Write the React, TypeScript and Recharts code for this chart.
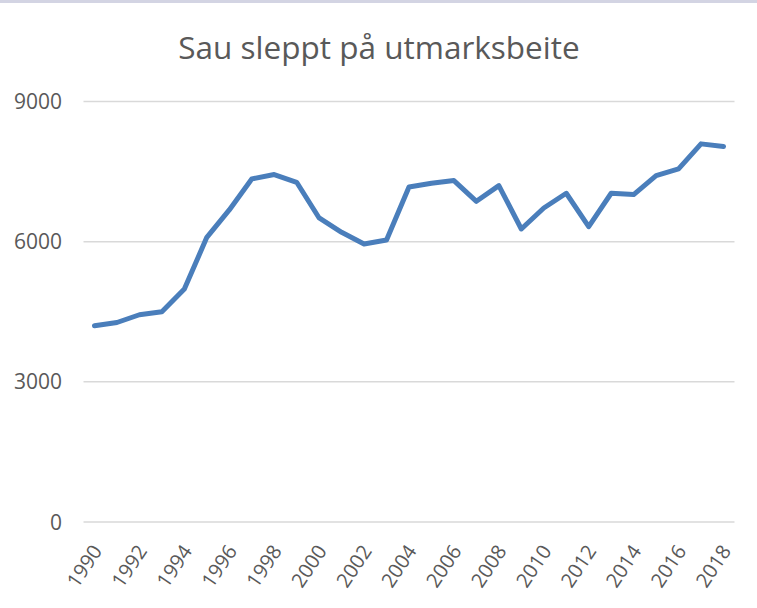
import React from "react";
import { LineChart, Line, XAxis, YAxis, CartesianGrid } from "recharts";

const years = [
  "1990", "1991", "1992", "1993", "1994", "1995", "1996", "1997", "1998", "1999",
  "2000", "2001", "2002", "2003", "2004", "2005", "2006", "2007", "2008", "2009",
  "2010", "2011", "2012", "2013", "2014", "2015", "2016", "2017", "2018",
];
const sheep = [
  4200, 4270, 4436, 4500, 4986, 6092, 6679, 7343, 7436, 7271,
  6507, 6200, 5950, 6036, 7170, 7250, 7307, 6864, 7200, 6271,
  6721, 7036, 6321, 7036, 7007, 7414, 7557, 8093, 8036,
];
const yTicks = [0, 3000, 6000, 9000];
const title = "Sau sleppt på utmarksbeite";

const data = years.map((y, i) => ({ year: y, value: sheep[i] }));

const FONT = "'Open Sans', 'Noto Sans', sans-serif";
const TEXT = "#595959";

const XTick = (props: any) => {
  const { x, y, payload } = props;
  const ax = x + 8.5;
  const ay = y + 29;
  return (
    <text
      x={ax}
      y={ay}
      textAnchor="end"
      fill={TEXT}
      fontSize={20}
      fontFamily={FONT}
      transform={`rotate(-56, ${ax}, ${ay})`}
    >
      {payload.value}
    </text>
  );
};

const YTick = (props: any) => {
  const { x, y, payload } = props;
  return (
    <text
      x={x - 21.5}
      y={y}
      dy="0.36em"
      textAnchor="end"
      fill={TEXT}
      fontSize={21}
      fontFamily={FONT}
    >
      {payload.value}
    </text>
  );
};

export default function App() {
  return (
    <div style={{ position: "absolute", left: 0, top: 0, width: 757, height: 608, background: "#fff" }}>
      <div style={{ position: "absolute", left: 0, top: 0, width: 757, height: 3, background: "#d3d4e3" }} />
      <LineChart
        width={757}
        height={608}
        data={data}
        margin={{ top: 101.5, right: 22.5, left: 0, bottom: 0 }}
      >
        <text
          x={379}
          y={59}
          textAnchor="middle"
          fill={TEXT}
          fontSize={31.5}
          fontFamily={FONT}
        >
          {title}
        </text>
        <CartesianGrid vertical={false} stroke="#d9d9d9" strokeWidth={1.5} />
        <XAxis
          dataKey="year"
          interval={1}
          height={86}
          axisLine={false}
          tickLine={false}
          tickSize={0}
          tickMargin={0}
          padding={{ left: 11, right: 11 }}
          tick={<XTick />}
        />
        <YAxis
          width={83.5}
          domain={[0, 9000]}
          ticks={yTicks}
          axisLine={false}
          tickLine={false}
          tickSize={0}
          tickMargin={0}
          tick={<YTick />}
        />
        <Line
          type="linear"
          dataKey="value"
          stroke="#4a7ebb"
          strokeWidth={5}
          strokeLinecap="round"
          strokeLinejoin="round"
          dot={false}
          activeDot={false}
          isAnimationActive={false}
        />
      </LineChart>
    </div>
  );
}
